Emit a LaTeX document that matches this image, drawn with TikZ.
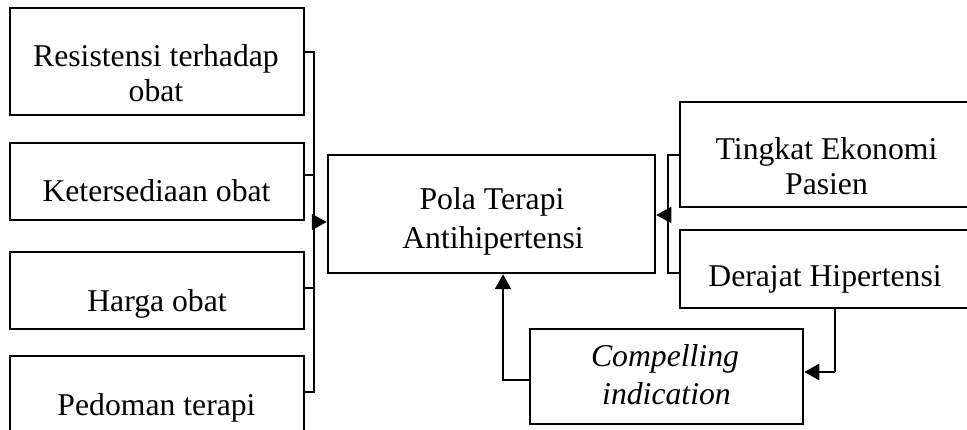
\documentclass[tikz,border=0pt]{standalone}
\usepackage{fontspec}
\setmainfont{Liberation Serif}
\usetikzlibrary{arrows.meta}
\begin{document}
\begin{tikzpicture}[x=1pt,y=-1pt,
  thinbox/.style={draw,line width=1.5pt,rectangle,inner sep=0pt},
  thickbox/.style={thinbox,line width=2.5pt},
  txt/.style={anchor=base,inner sep=0pt,font=\fontsize{31.7}{36}\selectfont},
  itxt/.style={txt,font=\fontsize{31.7}{36}\selectfont\itshape},
  thinline/.style={line width=1.5pt},
  thickline/.style={line width=2.5pt},
  tip/.style={-{Triangle[length=15pt,width=16pt]}}]
\useasboundingbox (0,0) rectangle (967,430);
\clip (0,0) rectangle (967,430);
% left boxes
\node[thinbox,minimum width=294pt,minimum height=107pt] (b1) at (157,61.5) {};
\node[txt] (b1a) at (156,66.7) {Resistensi terhadap};
\node[txt] (b1b) at (156,101.7) {obat};
\node[thinbox,minimum width=294pt,minimum height=77pt] (b2) at (157,181.5) {};
\node[txt] (b2a) at (156.5,201.7) {Ketersediaan obat};
\node[thinbox,minimum width=294pt,minimum height=77pt] (b3) at (157,290.5) {};
\node[txt] (b3a) at (157,311.7) {Harga obat};
\node[thinbox,minimum width=294pt,minimum height=94pt] (b4) at (157,403) {};
\node[txt] (b4a) at (156.5,415) {Pedoman terapi};
% central
\node[thickbox,minimum width=327pt,minimum height=118pt] (c) at (491.5,214) {};
\node[txt] (ca) at (492,210) {Pola Terapi};
\node[txt] (cb) at (493,248.3) {Antihipertensi};
% right boxes
\node[thinbox,minimum width=294pt,minimum height=105pt] (t) at (827,154.5) {};
\node[txt] (ta) at (826.5,160) {Tingkat Ekonomi};
\node[txt] (tb) at (826.5,195) {Pasien};
\node[thinbox,minimum width=294pt,minimum height=78pt] (d) at (827,269) {};
\node[txt] (da) at (825,286.7) {Derajat Hipertensi};
% compelling
\node[thickbox,minimum width=273pt,minimum height=95pt] (comp) at (666.5,376.5) {};
\node[itxt] (compa) at (665,366.7) {Compelling};
\node[itxt] (compb) at (666.5,405) {indication};
% left connectors
\coordinate (j1) at (314,52);
\coordinate (j2) at (314,175);
\coordinate (j3) at (314,288);
\coordinate (j4) at (314,392);
\coordinate (jm) at (314,222);
\draw[thinline] (b1.east |- j1) -- (j1) -- (j4) -- (b4.east |- j4);
\draw[thinline] (b2.east |- j2) -- (j2);
\draw[thinline] (b3.east |- j3) -- (j3);
\draw[thinline,tip] (jm) -- (c.west |- jm);
% right connectors
\coordinate (r1) at (668,155);
\coordinate (r2) at (668,273);
\coordinate (rm) at (668,215);
\draw[thinline] (t.west |- r1) -- (r1) -- (r2) -- (d.west |- r2);
\draw[thinline,tip] (rm) -- (c.east |- rm);
% compelling connectors
\coordinate (k) at (503,380);
\draw[thickline,tip] (comp.west |- k) -- (k) -- (k |- c.south);
\coordinate (q) at (835,372);
\draw[thinline] (d.south -| q) -- (q);
\draw[thickline,tip] (q) -- (comp.east |- q);
\end{tikzpicture}
\end{document}
